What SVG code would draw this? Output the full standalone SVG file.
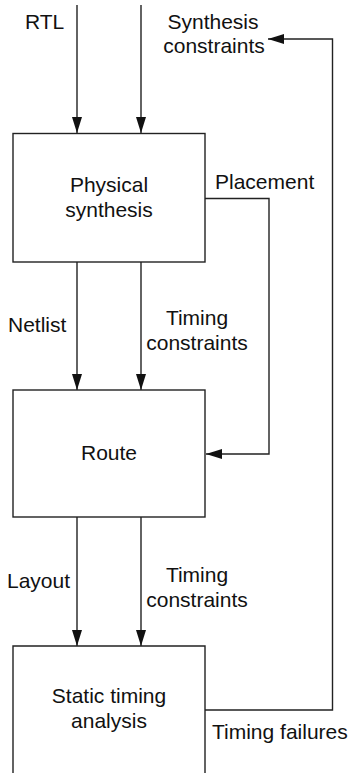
<svg xmlns="http://www.w3.org/2000/svg" width="351" height="773" viewBox="0 0 351 773">
<defs>
<style>
.box{fill:#fff;stroke:#222;stroke-width:1.4}
.ln{fill:none;stroke:#222;stroke-width:1.4}
text{font-family:"Liberation Sans",Arial,sans-serif;font-size:21px;fill:#111}
.c{text-anchor:middle}
</style>
<marker id="ah" markerUnits="userSpaceOnUse" markerWidth="17" markerHeight="11" refX="16" refY="5.5" orient="auto">
<path d="M0,0.5 L16,5.5 L0,10.5 Z" fill="#111"/>
</marker>
</defs>
<g id="connectors">
<line class="ln" x1="77" y1="5" x2="77" y2="133" marker-end="url(#ah)"/>
<line class="ln" x1="141" y1="5" x2="141" y2="133" marker-end="url(#ah)"/>
<line class="ln" x1="77" y1="262" x2="77" y2="390" marker-end="url(#ah)"/>
<line class="ln" x1="141" y1="262" x2="141" y2="390" marker-end="url(#ah)"/>
<line class="ln" x1="77" y1="517" x2="77" y2="646" marker-end="url(#ah)"/>
<line class="ln" x1="141" y1="517" x2="141" y2="646" marker-end="url(#ah)"/>
<polyline class="ln" points="205,198.5 269,198.5 269,454 206,454" marker-end="url(#ah)"/>
<polyline class="ln" points="205,710 332.5,710 332.5,39 268,39" marker-end="url(#ah)"/>
</g>
<g id="labels">
<text x="25" y="29">RTL</text>
<text class="c" x="213" y="29">Synthesis</text>
<text class="c" x="214" y="53">constraints</text>
<text x="215" y="189">Placement</text>
<text x="8" y="332">Netlist</text>
<text class="c" x="197" y="325">Timing</text>
<text class="c" x="197" y="350">constraints</text>
<text x="7" y="588">Layout</text>
<text class="c" x="197" y="582">Timing</text>
<text class="c" x="197" y="607">constraints</text>
<text x="212" y="739">Timing failures</text>
</g>
<g id="physical-synthesis">
<rect class="box" x="13" y="133.5" width="192" height="128.5"/>
<text class="c" x="109" y="192">Physical</text>
<text class="c" x="109" y="217">synthesis</text>
</g>
<g id="route">
<rect class="box" x="13" y="390" width="192" height="127"/>
<text class="c" x="109" y="460">Route</text>
</g>
<g id="static-timing-analysis">
<path class="ln" d="M13,780 L13,646 L205,646 L205,780"/>
<text class="c" x="109" y="703">Static timing</text>
<text class="c" x="109" y="728">analysis</text>
</g>
</svg>
